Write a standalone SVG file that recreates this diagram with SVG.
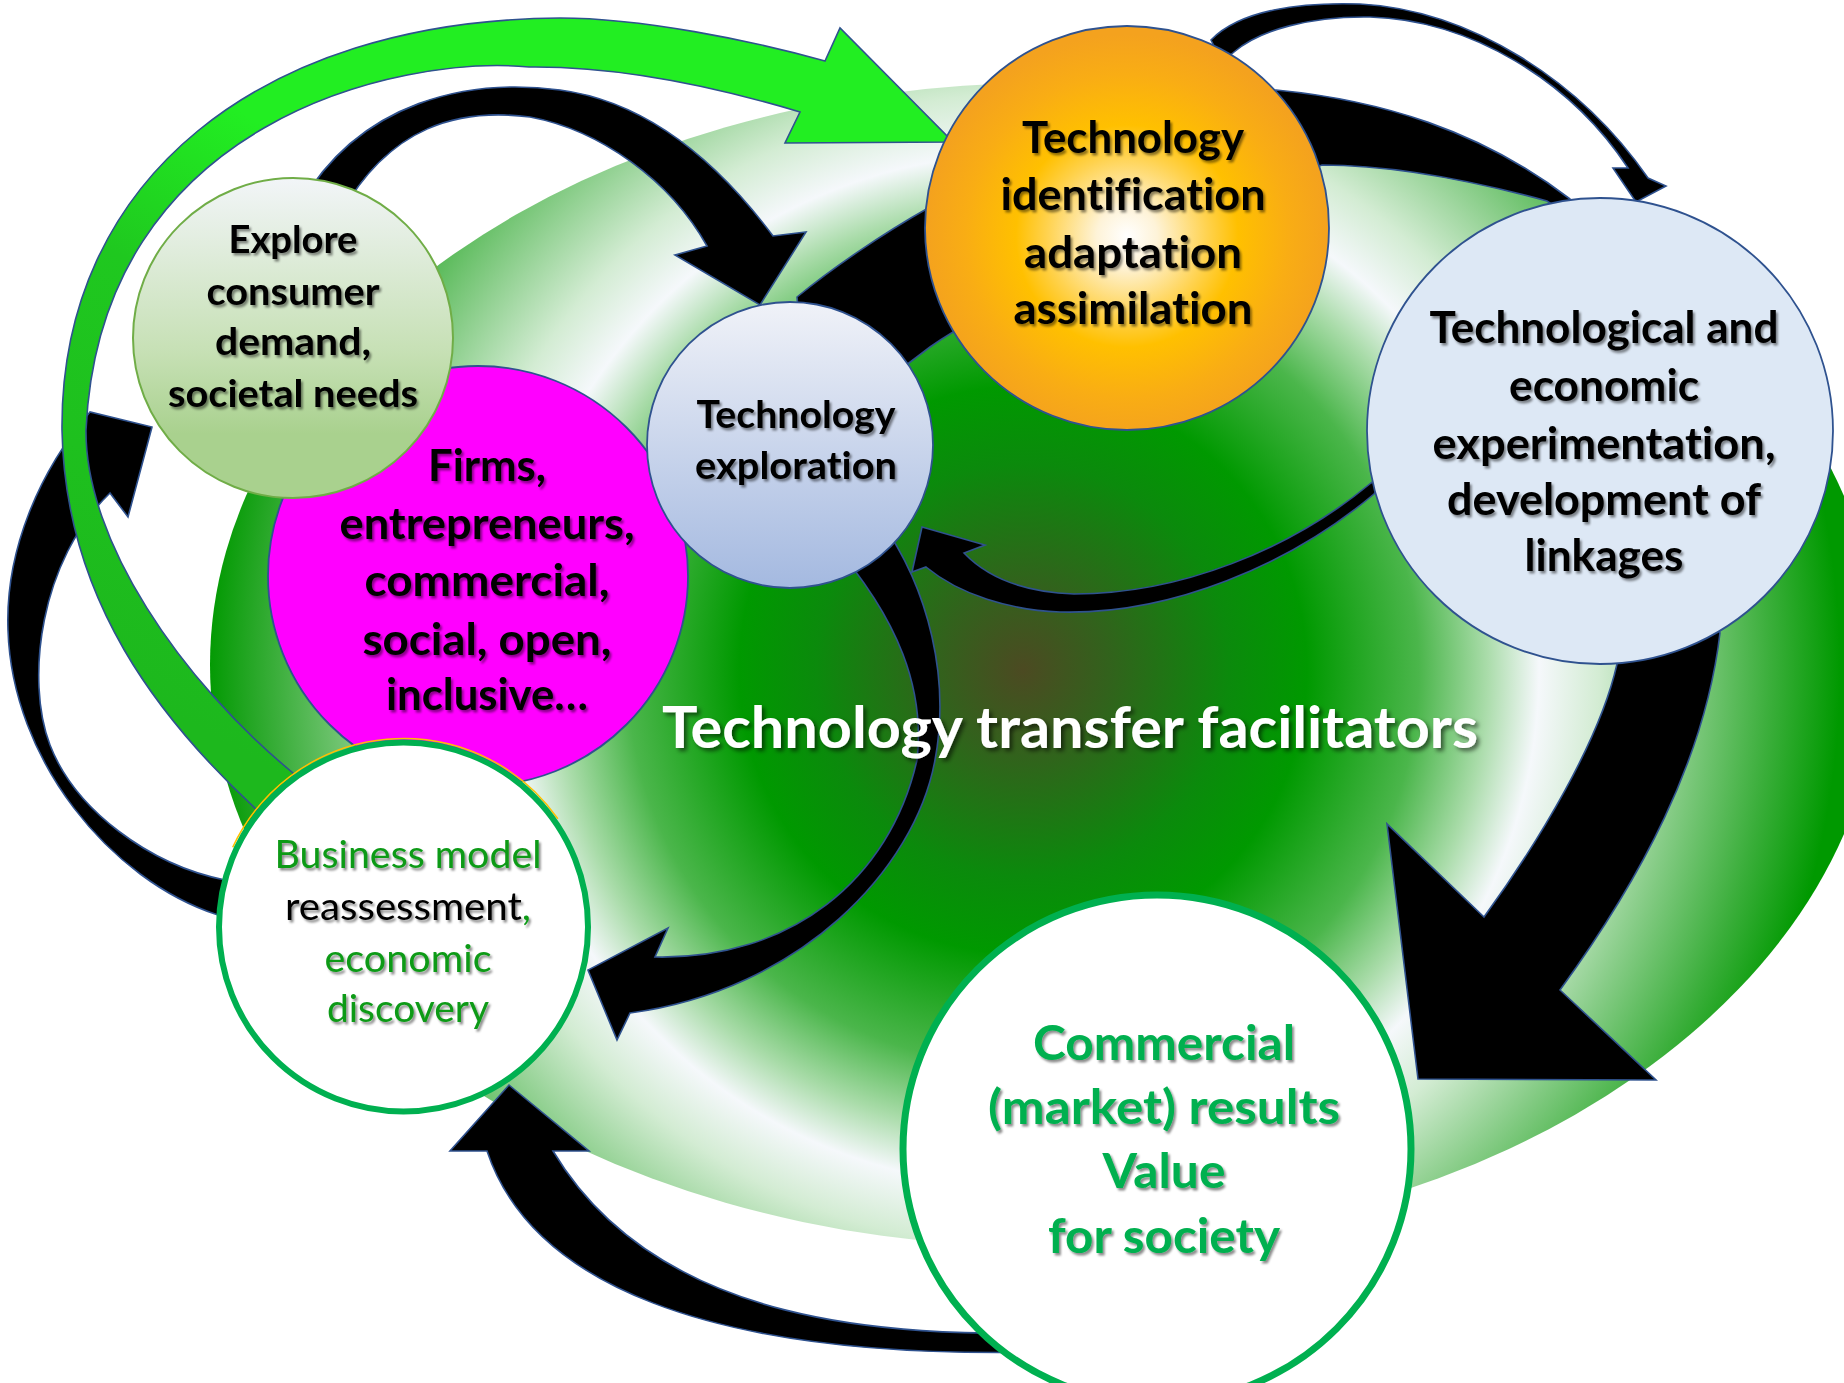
<svg xmlns="http://www.w3.org/2000/svg" width="1844" height="1383" viewBox="0 0 1844 1383">
<defs>
<style>
.t{font-family:Lato,'Liberation Sans','DejaVu Sans',sans-serif;font-weight:700;text-anchor:middle;fill:#000;font-variant-ligatures:none;font-feature-settings:"liga" 0}
.r{font-weight:400}
.arr{stroke:#2f528f;stroke-width:1.6;stroke-linejoin:miter}
.blk{fill:#000}
.node{stroke:#2f528f;stroke-width:1.8}
</style>
<radialGradient id="bg" gradientUnits="userSpaceOnUse" cx="1023" cy="670" r="860">
<stop offset="0" stop-color="#4c4a22"/>
<stop offset="0.1" stop-color="#32621c"/>
<stop offset="0.24" stop-color="#0b8a0c"/>
<stop offset="0.33" stop-color="#009900"/>
<stop offset="0.46" stop-color="#4bb64b"/>
<stop offset="0.54" stop-color="#aadcaa"/>
<stop offset="0.6" stop-color="#f5f8fb"/>
<stop offset="0.67" stop-color="#d3ecd3"/>
<stop offset="0.77" stop-color="#86cc86"/>
<stop offset="0.87" stop-color="#3aae3a"/>
<stop offset="0.95" stop-color="#009900"/>
<stop offset="1" stop-color="#009900"/>
</radialGradient>
<linearGradient id="gArrow" gradientUnits="userSpaceOnUse" x1="150" y1="700" x2="520" y2="60">
<stop offset="0" stop-color="#1db81d"/>
<stop offset="0.5" stop-color="#1fc81f"/>
<stop offset="0.75" stop-color="#22ee22"/>
<stop offset="1" stop-color="#22ee22"/>
</linearGradient>
<linearGradient id="gExplore" x1="0" y1="0" x2="0" y2="1">
<stop offset="0" stop-color="#f2f5f8"/>
<stop offset="0.55" stop-color="#c6e0b4"/>
<stop offset="0.8" stop-color="#a9d18e"/>
<stop offset="1" stop-color="#a9d18e"/>
</linearGradient>
<linearGradient id="gTechExp" x1="0" y1="0" x2="0" y2="1">
<stop offset="0" stop-color="#f0f2f8"/>
<stop offset="1" stop-color="#a4b9e0"/>
</linearGradient>
<radialGradient id="gOrange" cx="0.5" cy="0.52" r="0.5">
<stop offset="0" stop-color="#ffffff"/>
<stop offset="0.15" stop-color="#fef3d8"/>
<stop offset="0.4" stop-color="#ffd24d"/>
<stop offset="0.55" stop-color="#ffc000"/>
<stop offset="0.8" stop-color="#f9ad14"/>
<stop offset="1" stop-color="#f4a21e"/>
</radialGradient>
<filter id="sh" x="-10%" y="-10%" width="120%" height="130%">
<feDropShadow dx="2" dy="2.5" stdDeviation="1.3" flood-color="#000" flood-opacity="0.45"/>
</filter>
<filter id="shT" x="-5%" y="-20%" width="110%" height="150%">
<feDropShadow dx="3" dy="3" stdDeviation="2" flood-color="#000" flood-opacity="0.55"/>
</filter>
</defs>

<g id="background">
<ellipse cx="1045" cy="665" rx="835" ry="582" fill="url(#bg)"/>
</g>

<g id="connectors">
<!-- G: left arrow business model -> explore -->
<path class="arr blk" d="M 245 865 L 225 880 C 150 865, 75 810, 50 745 C 25 680, 40 560, 110 493 L 128 517 L 152 427 L 90 412 C 40 470, 5 550, 8 630 C 12 760, 110 880, 218 915 L 245 935 Z"/>
<!-- E: commercial -> business model -->
<path class="arr blk" d="M 1045 1333 C 900 1335, 660 1330, 553 1151 L 589 1151 L 509 1085 L 450 1151 L 487 1151 C 530 1280, 700 1360, 1045 1352 Z"/>
<!-- H: green arrow business model -> technology identification -->
<path class="arr" fill="url(#gArrow)" d="M 300 830 L 257 810 C 160 720, 65 600, 62 430 C 60 180, 260 20, 560 18 C 640 18, 750 40, 825 61 L 840 28 L 953 142 L 785 143 L 800 112 C 720 88, 620 66, 529 67 C 400 55, 100 120, 86 430 C 85 540, 180 680, 293 773 Z"/>
<!-- A: explore -> technology exploration -->
<path class="arr blk" d="M 300 205 C 360 100, 470 78, 560 90 C 650 102, 720 165, 773 236 L 806 232 L 760 305 L 675 255 L 707 246 C 670 180, 600 130, 530 117 C 460 108, 390 125, 340 215 Z"/>
<!-- B: technology exploration -> technological experimentation (behind orange) -->
<path class="arr blk" d="M 800 330 L 797 297 C 830 270, 880 235, 930 207 L 1100 130 L 1276 90 C 1380 100, 1480 130, 1570 199 L 1590 230 L 1547 201 C 1470 180, 1390 165, 1322 165 L 1100 250 L 975 320 C 955 330, 940 340, 930 347 L 880 385 Z"/>
<!-- I: thin arrow identification -> experimentation -->
<path class="arr blk" d="M 1222 62 L 1211 40 C 1240 10, 1300 2, 1360 4 C 1470 10, 1580 80, 1648 178 L 1666 186 L 1636 202 L 1613 168 L 1628 168 C 1570 80, 1470 20, 1370 17 C 1310 16, 1260 30, 1234 52 Z"/>
<!-- C: experimentation -> technology exploration -->
<path class="arr blk" d="M 1392 470 L 1374 494 C 1290 565, 1170 615, 1060 612 C 1010 610, 960 595, 926 567 L 912 572 L 922 527 L 985 545 L 964 553 C 985 575, 1020 592, 1074 594 C 1180 594, 1290 550, 1371 483 Z"/>
<!-- D: experimentation -> commercial results -->
<path class="arr blk" d="M 1700 560 L 1720 633 C 1705 760, 1640 880, 1560 990 L 1656 1080 L 1418 1079 L 1387 824 L 1484 917 C 1540 840, 1600 740, 1617 664 L 1600 580 Z"/>
<!-- F: technology exploration -> business model -->
<path class="arr blk" d="M 880 520 C 930 590, 950 680, 935 760 C 915 870, 800 990, 630 1013 L 617 1040 L 588 970 L 668 928 L 655 957 C 790 960, 890 880, 917 760 C 925 690, 900 620, 830 540 Z"/>
</g>

<g id="node-firms">
<circle class="node" cx="478" cy="576" r="210" fill="#ff00ff" stroke-width="1.5"/>
<g filter="url(#sh)">
<text class="t" x="487" y="481" font-size="43" textLength="118" lengthAdjust="spacingAndGlyphs">Firms,</text>
<text class="t" x="487" y="539" font-size="43" textLength="295" lengthAdjust="spacingAndGlyphs">entrepreneurs,</text>
<text class="t" x="487" y="596" font-size="43" textLength="245" lengthAdjust="spacingAndGlyphs">commercial,</text>
<text class="t" x="487" y="655" font-size="43" textLength="249" lengthAdjust="spacingAndGlyphs">social, open,</text>
<text class="t" x="487" y="710" font-size="43" textLength="202" lengthAdjust="spacingAndGlyphs">inclusive…</text>
</g>
</g>

<g id="node-explore">
<circle cx="293" cy="338" r="160" fill="url(#gExplore)" stroke="#70ad47" stroke-width="2"/>
<g filter="url(#sh)">
<text class="t" x="293" y="253" font-size="38.5" textLength="129" lengthAdjust="spacingAndGlyphs">Explore</text>
<text class="t" x="293" y="305" font-size="38.5" textLength="173" lengthAdjust="spacingAndGlyphs">consumer</text>
<text class="t" x="293" y="355" font-size="38.5" textLength="156" lengthAdjust="spacingAndGlyphs">demand,</text>
<text class="t" x="293" y="407" font-size="38.5" textLength="250" lengthAdjust="spacingAndGlyphs">societal needs</text>
</g>
</g>

<g id="node-tech-exploration">
<circle class="node" cx="790" cy="445" r="143" fill="url(#gTechExp)"/>
<g filter="url(#sh)">
<text class="t" x="796" y="428" font-size="38" textLength="199" lengthAdjust="spacingAndGlyphs">Technology</text>
<text class="t" x="796" y="479" font-size="38" textLength="202" lengthAdjust="spacingAndGlyphs">exploration</text>
</g>
</g>

<g id="node-tech-identification">
<circle class="node" cx="1127" cy="228" r="202" fill="url(#gOrange)"/>
<g filter="url(#sh)">
<text class="t" x="1133" y="153" font-size="43" textLength="222" lengthAdjust="spacingAndGlyphs">Technology</text>
<text class="t" x="1133" y="210" font-size="43" textLength="265" lengthAdjust="spacingAndGlyphs">identification</text>
<text class="t" x="1133" y="268" font-size="43" textLength="218" lengthAdjust="spacingAndGlyphs">adaptation</text>
<text class="t" x="1133" y="324" font-size="43" textLength="239" lengthAdjust="spacingAndGlyphs">assimilation</text>
</g>
</g>

<g id="node-experimentation">
<circle class="node" cx="1600" cy="431" r="233" fill="#dde8f5"/>
<g filter="url(#sh)">
<text class="t" x="1604" y="343" font-size="43" textLength="349" lengthAdjust="spacingAndGlyphs">Technological and</text>
<text class="t" x="1604" y="401" font-size="43" textLength="190" lengthAdjust="spacingAndGlyphs">economic</text>
<text class="t" x="1604" y="459" font-size="43" textLength="343" lengthAdjust="spacingAndGlyphs">experimentation,</text>
<text class="t" x="1604" y="515" font-size="43" textLength="314" lengthAdjust="spacingAndGlyphs">development of</text>
<text class="t" x="1604" y="571" font-size="43" textLength="159" lengthAdjust="spacingAndGlyphs">linkages</text>
</g>
</g>

<g id="node-business-model">
<path d="M 232.7 847.3 A 188.5 188.5 0 0 1 557.9 818.8" fill="none" stroke="#ffc000" stroke-width="1.5"/>
<circle cx="403.5" cy="927" r="184.5" fill="#ffffff" stroke="#00b050" stroke-width="6"/>
<g filter="url(#sh)">
<text class="t r" x="408" y="868" font-size="38.5" style="fill:#0a9a16" textLength="267" lengthAdjust="spacingAndGlyphs">Business model</text>
<text class="t r" x="408" y="920" font-size="38.5" textLength="246" lengthAdjust="spacingAndGlyphs">reassessment<tspan style="fill:#0a9a16">,</tspan></text>
<text class="t r" x="408" y="972" font-size="38.5" style="fill:#0a9a16" textLength="167" lengthAdjust="spacingAndGlyphs">economic</text>
<text class="t r" x="408" y="1022" font-size="38.5" style="fill:#0a9a16" textLength="162" lengthAdjust="spacingAndGlyphs">discovery</text>
</g>
</g>

<g id="node-commercial">
<circle cx="1157" cy="1149" r="254" fill="#ffffff" stroke="#00b050" stroke-width="7"/>
<g filter="url(#sh)">
<text class="t" x="1164" y="1060" font-size="48.5" style="fill:#00b050" textLength="262" lengthAdjust="spacingAndGlyphs">Commercial</text>
<text class="t" x="1164" y="1124" font-size="48.5" style="fill:#00b050" textLength="352" lengthAdjust="spacingAndGlyphs">(market) results</text>
<text class="t" x="1164" y="1188" font-size="48.5" style="fill:#00b050" textLength="123" lengthAdjust="spacingAndGlyphs">Value</text>
<text class="t" x="1164" y="1253" font-size="48.5" style="fill:#00b050" textLength="232" lengthAdjust="spacingAndGlyphs">for society</text>
</g>
</g>

<g id="title" filter="url(#shT)">
<text class="t" x="1070" y="748" font-size="58" style="fill:#ffffff" textLength="816" lengthAdjust="spacingAndGlyphs">Technology transfer facilitators</text>
</g>
</svg>
